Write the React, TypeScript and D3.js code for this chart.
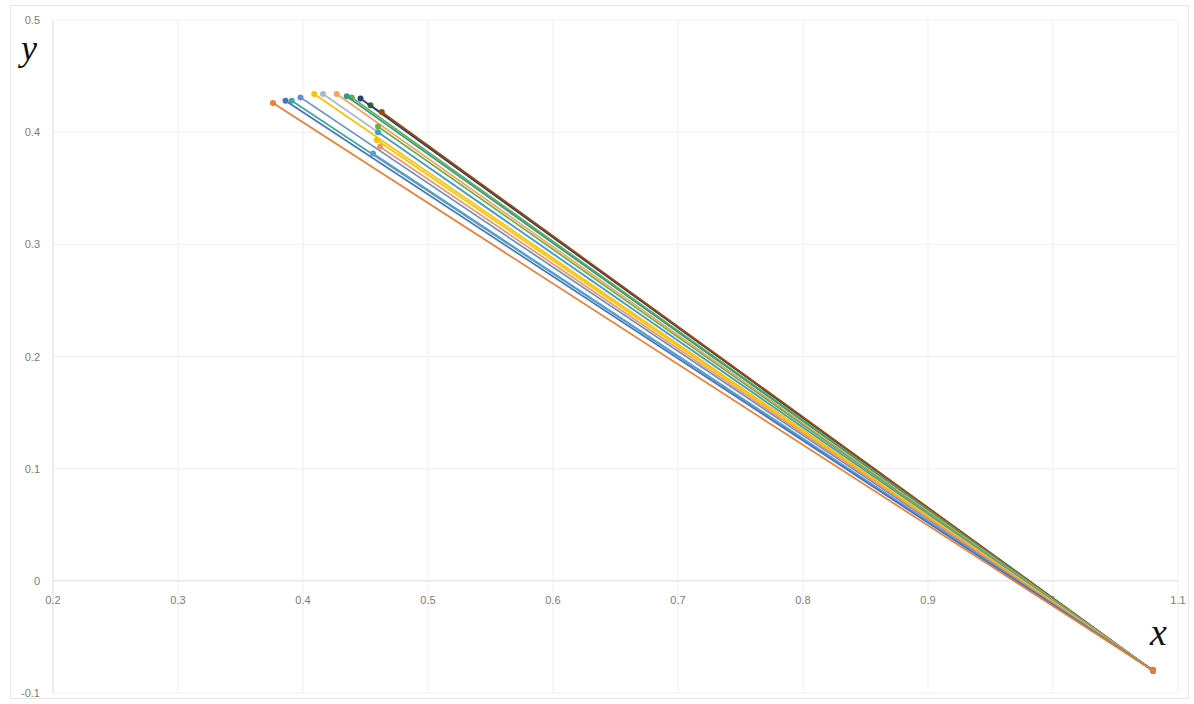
import React from "react";
import * as d3 from "d3";

const endPoint = { x: 1.08, y: -0.08 };
const seriesNames = ["s1","s2","s3","s4","s5","s6","s7","s8","s9","s10","s11","s12","s13","s14","s15","s16","s17"];
const startX = [0.376, 0.386, 0.391, 0.398, 0.409, 0.416, 0.427, 0.435, 0.439, 0.446, 0.463, 0.460, 0.460, 0.459, 0.4616, 0.456, 0.454];
const startY = [0.426, 0.428, 0.428, 0.431, 0.434, 0.434, 0.434, 0.432, 0.431, 0.430, 0.418, 0.405, 0.400, 0.393, 0.387, 0.381, 0.424];
const seriesColors = ["#ED7D31", "#4472C4", "#3BA99C", "#698ED0", "#FFC000", "#A9B8D0", "#F4A460", "#2E9C8A", "#70AD47", "#264478", "#9E480E", "#70AD47", "#3BA0C8", "#FFC000", "#F1975A", "#5B9BD5", "#43682B"];
const drawOrder = [16, 9, 10, 8, 7, 6, 5, 11, 12, 13, 4, 3, 14, 2, 15, 1, 0];
const xTicks = [0.2, 0.3, 0.4, 0.5, 0.6, 0.7, 0.8, 0.9, 1.0, 1.1];
const xTickLabels = ["0.2", "0.3", "0.4", "0.5", "0.6", "0.7", "0.8", "0.9", "1", "1.1"];
const yTicks = [-0.1, 0, 0.1, 0.2, 0.3, 0.4, 0.5];
const yTickLabels = ["-0.1", "0", "0.1", "0.2", "0.3", "0.4", "0.5"];

export default function App() {
  const W = 1194, H = 704;
  const x = d3.scaleLinear().domain([0.2, 1.1]).range([53, 1178]);
  const y = d3.scaleLinear().domain([-0.1, 0.5]).range([693, 20]);
  const line = d3.line<{ x: number; y: number }>().x(d => x(d.x)).y(d => y(d.y));
  const font = "'Liberation Sans', Arial, sans-serif";
  return (
    <svg width={W} height={H} style={{ position: "absolute", left: 0, top: 0, background: "#fff" }}>
      <rect x={10.5} y={5.5} width={1178} height={693} fill="#fff" stroke="#e6e6e6" />
      {xTicks.map(t => (
        <line key={"gx" + t} x1={x(t)} x2={x(t)} y1={y(0.5)} y2={y(-0.1)} stroke="#efefef" strokeWidth={1} />
      ))}
      {yTicks.map(t => (
        <line key={"gy" + t} x1={x(0.2)} x2={x(1.1)} y1={y(t)} y2={y(t)} stroke="#efefef" strokeWidth={1} />
      ))}
      <line x1={x(0.2)} x2={x(1.1)} y1={y(0)} y2={y(0)} stroke="#e2e2e2" />
      <line x1={x(0.2)} x2={x(0.2)} y1={y(0.5)} y2={y(-0.1)} stroke="#e2e2e2" />
      {xTicks.map((t, i) => (
        <text key={"tx" + t} x={x(t)} y={y(0) + 23} textAnchor="middle" fontFamily={font} fontSize={11} fill="#7a7a7a">{xTickLabels[i]}</text>
      ))}
      {yTicks.map((t, i) => (
        <text key={"ty" + t} x={40} y={y(t) + 4} textAnchor="end" fontFamily={font} fontSize={11} fill="#7a7a7a">{yTickLabels[i]}</text>
      ))}
      {drawOrder.map(i => {
        const pts = [{ x: startX[i], y: startY[i] }, endPoint];
        return (
          <g key={seriesNames[i]}>
            <path d={line(pts) || ""} fill="none" stroke={seriesColors[i]} strokeWidth={1.7} />
            {pts.map((p, j) => (
              <circle key={j} cx={x(p.x)} cy={y(p.y)} r={3} fill={seriesColors[i]} />
            ))}
          </g>
        );
      })}
      <text x={21} y={60} fontFamily="'Liberation Serif', 'DejaVu Serif', serif" fontStyle="italic" fontSize={36} fill="#111">y</text>
      <text x={1150} y={645} fontFamily="'Liberation Serif', 'DejaVu Serif', serif" fontStyle="italic" fontSize={38} fill="#111">x</text>
    </svg>
  );
}
